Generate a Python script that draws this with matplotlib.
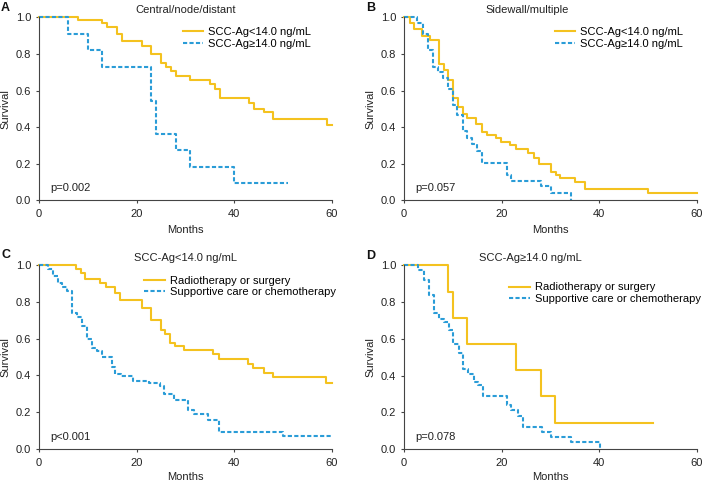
import matplotlib
matplotlib.use("Agg")
import matplotlib.pyplot as plt

plt.rcParams['font.family'] = ['Liberation Sans', 'DejaVu Sans']
plt.rcParams['font.size'] = 8

YELLOW = '#F4C21F'
BLUE = '#2A9CD7'

# panel A: central/node/distant
a_low_t = [0, 8, 13, 14, 16, 17, 21, 23, 25, 26, 27, 28, 31, 35, 36, 37, 43, 44, 46, 48, 59, 60]
a_low_s = [1.0, 0.983, 0.967, 0.949, 0.907, 0.87, 0.845, 0.80, 0.75, 0.73, 0.705, 0.68, 0.655, 0.635,
           0.61, 0.56, 0.53, 0.50, 0.48, 0.445, 0.41, 0.41]
a_high_t = [0, 6, 10, 13, 23, 24, 28, 31, 40, 51]
a_high_s = [1.0, 0.91, 0.82, 0.73, 0.545, 0.365, 0.275, 0.18, 0.095, 0.095]

# panel B: sidewall/multiple
b_low_t = [0, 1.2, 2, 3.6, 5.3, 7.2, 8.2, 9.1, 10.1, 11.1, 12, 13, 14.7, 15.9, 16.9, 18.9, 19.9, 21.8,
           22.9, 25.4, 26.6, 27.7, 30, 31.1, 32, 35, 37, 50, 60]
b_low_s = [1.0, 0.967, 0.936, 0.90, 0.875, 0.745, 0.71, 0.66, 0.56, 0.512, 0.472, 0.448, 0.415, 0.375,
           0.357, 0.338, 0.32, 0.30, 0.279, 0.26, 0.23, 0.197, 0.157, 0.139, 0.12, 0.10, 0.062, 0.042, 0.042]
b_high_t = [0, 2.7, 3.8, 5, 6, 7, 8, 9, 10.1, 10.8, 12, 13, 14, 14.9, 15.9, 21, 22, 28, 30, 34.1]
b_high_s = [1.0, 0.97, 0.91, 0.82, 0.73, 0.70, 0.67, 0.61, 0.52, 0.467, 0.376, 0.343, 0.31, 0.27,
            0.205, 0.138, 0.108, 0.078, 0.042, 0.0]

# panel C: SCC-Ag < 14.0
c_rad_t = [0, 7.5, 8.5, 9.5, 12.5, 13.7, 15.5, 16.6, 21, 23, 24.9, 25.8, 26.8, 27.8, 29.6, 35.7, 36.8,
           42.8, 43.8, 46, 48, 58.8, 60]
c_rad_s = [1.0, 0.976, 0.957, 0.925, 0.90, 0.88, 0.846, 0.81, 0.765, 0.70, 0.647, 0.626, 0.578, 0.56,
           0.54, 0.515, 0.49, 0.46, 0.44, 0.415, 0.39, 0.357, 0.357]
c_sup_t = [0, 1.8, 2.9, 3.8, 4.8, 5.7, 6.7, 7.8, 8.8, 9.8, 10.8, 11.9, 12.9, 14.9, 15.5, 16.7, 19.3,
           22.6, 24.7, 25.6, 27.6, 30.5, 31.7, 34.6, 36.9, 50, 60]
c_sup_s = [1.0, 0.976, 0.94, 0.90, 0.88, 0.86, 0.74, 0.717, 0.67, 0.60, 0.55, 0.53, 0.50, 0.447, 0.41,
           0.395, 0.37, 0.356, 0.34, 0.30, 0.265, 0.21, 0.19, 0.16, 0.094, 0.072, 0.072]

# panel D: SCC-Ag >= 14.0
d_rad_t = [0, 9, 10, 13, 23, 28, 31, 51]
d_rad_s = [1.0, 0.857, 0.714, 0.571, 0.429, 0.286, 0.143, 0.143]
d_sup_t = [0, 2.9, 4, 5.2, 6.1, 7.2, 8.2, 9.3, 10.1, 11.3, 12.1, 13.2, 14.3, 15.2, 16.2, 21.1, 22,
           23.4, 24.4, 28.2, 30.2, 34.2, 40.2]
d_sup_s = [1.0, 0.973, 0.92, 0.84, 0.74, 0.71, 0.69, 0.65, 0.57, 0.52, 0.435, 0.41, 0.365, 0.35, 0.29,
           0.238, 0.21, 0.18, 0.12, 0.094, 0.067, 0.038, 0.0]

labels_ab = ['SCC-Ag<14.0 ng/mL', 'SCC-Ag\u226514.0 ng/mL']
labels_cd = ['Radiotherapy or surgery', 'Supportive care or chemotherapy']

W, H = 704, 482
fig = plt.figure(figsize=(W / 100, H / 100), dpi=100)

panels = [
    # letter, left px, top px, bottom px, title, title x, curves, labels, p text, legend pos, letter pos
    ('A', 39, 17.3, 200.3, 'Central/node/distant', 0.5, (a_low_t, a_low_s, a_high_t, a_high_s),
     labels_ab, 'p=0.002', (0.49, 0.887), (1, 2), 30),
    ('B', 404, 17.3, 200.3, 'Sidewall/multiple', 0.42, (b_low_t, b_low_s, b_high_t, b_high_s),
     labels_ab, 'p=0.057', (0.515, 0.887), (366, 2), 30),
    ('C', 39, 265, 449, 'SCC-Ag<14.0 ng/mL', 0.5, (c_rad_t, c_rad_s, c_sup_t, c_sup_s),
     labels_cd, 'p<0.001', (0.36, 0.883), (1, 249), 28),
    ('D', 404, 265.3, 449, 'SCC-Ag\u226514.0 ng/mL', 0.43, (d_rad_t, d_rad_s, d_sup_t, d_sup_s),
     labels_cd, 'p=0.078', (0.36, 0.848), (366, 250), 28),
]

for letter, left, top, bottom, title, tx, curves, labels, ptext, lpos, lxy, xl_off in panels:
    h = bottom - top
    ax = fig.add_axes([left / W, 1 - bottom / H, 293 / W, h / H])
    t1, s1, t2, s2 = curves
    ax.step(t1, s1, where='post', color=YELLOW, lw=1.5, label=labels[0], clip_on=False)
    ax.step(t2, s2, where='post', color=BLUE, lw=1.5, ls=(0, (2.0, 1.1)), label=labels[1], clip_on=False)
    ax.set_xlim(0, 60)
    ax.set_ylim(0, 1.0)
    ax.set_xticks([0, 20, 40, 60])
    ax.set_yticks([0, 0.2, 0.4, 0.6, 0.8, 1.0])
    ax.set_yticklabels(['0.0', '0.2', '0.4', '0.6', '0.8', '1.0'])
    for s in ['top', 'right']:
        ax.spines[s].set_visible(False)
    for s in ['left', 'bottom']:
        ax.spines[s].set_color('#444444')
        ax.spines[s].set_linewidth(0.8)
    ax.tick_params(axis='both', length=2.5, width=0.8, color='#444444', labelsize=8, labelcolor='#222222')
    ax.tick_params(axis='x', pad=4)
    ax.tick_params(axis='y', pad=3)
    ax.text(0.5, -xl_off / h, 'Months', transform=ax.transAxes, ha='center', va='center',
            fontsize=8, color='#222222')
    ax.text(-34 / 293, 0.5, 'Survival', transform=ax.transAxes, ha='center', va='center',
            rotation=90, fontsize=8, color='#222222')
    ax.text(tx, 1.0 + 7 / h, title, transform=ax.transAxes, ha='center', va='center',
            fontsize=8, color='#222222')
    ax.text(0.04, 0.066, ptext, transform=ax.transAxes, ha='left', va='center', fontsize=8, color='#222222')
    ax.legend(loc='center left', bbox_to_anchor=lpos, frameon=False, fontsize=8, handlelength=1.85,
              handletextpad=0.45, borderpad=0, borderaxespad=0, labelspacing=0.15)
    fig.text(lxy[0] / W, 1 - lxy[1] / H, letter, ha='left', va='top',
             fontsize=9, fontweight='bold', color='#111111')

fig.savefig('out.png', dpi=100)
